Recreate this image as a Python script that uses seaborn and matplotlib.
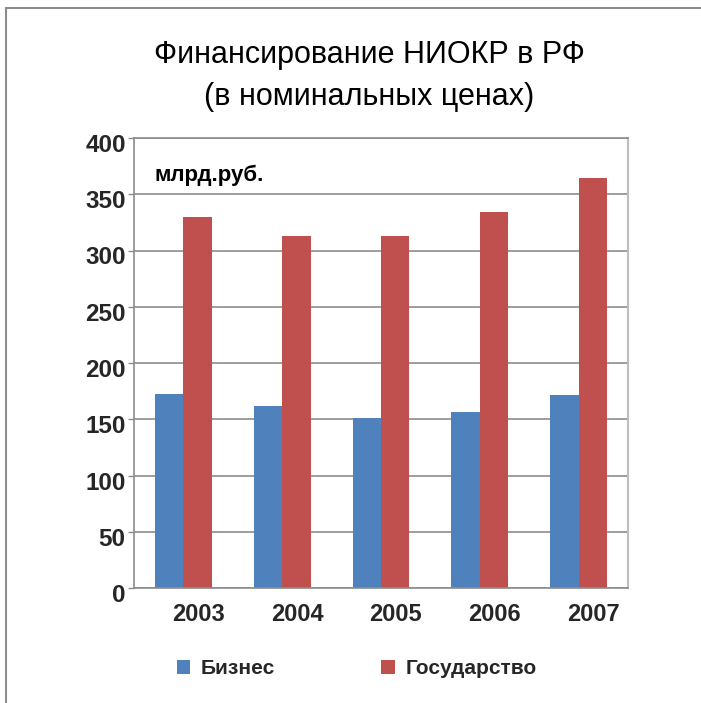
import matplotlib
matplotlib.use("Agg")
import matplotlib.pyplot as plt
import matplotlib.transforms as mtransforms
import numpy as np
import pandas as pd
import seaborn as sns

# ---- data ----
years = ["2003", "2004", "2005", "2006", "2007"]
series_names = ["Бизнес", "Государство"]
business = [172.5, 162, 151, 156.5, 171.5]
government = [330, 313, 313, 334, 364.5]
y_ticks = [0, 50, 100, 150, 200, 250, 300, 350, 400]
title_text = "Финансирование НИОКР в РФ\n(в номинальных ценах)"
unit_text = "млрд.руб."

colors = ["#4F81BD", "#C0504D"]

df = pd.DataFrame({
    "Год": years * 2,
    "Источник": [series_names[0]] * len(years) + [series_names[1]] * len(years),
    "Значение": business + government,
})

sns.set_theme(style="white")
plt.rcParams["font.family"] = ["Liberation Sans", "DejaVu Sans"]

W, H = 701, 703
fig = plt.figure(figsize=(W / 100, H / 100), dpi=100)
ax = fig.add_axes([134 / W, 1 - 588 / H, 494 / W, 450 / H])

sns.barplot(data=df, x="Год", y="Значение", hue="Источник", palette=colors,
            width=0.576, saturation=1, errorbar=None, linewidth=0, ax=ax)

ax.set_ylim(0, 400)
ax.set_xlim(-0.5, 4.5)
ax.set_yticks(y_ticks)
ax.set_yticklabels([str(v) for v in y_ticks], fontsize=17.5, fontweight="bold")
ax.set_xticks(np.arange(len(years)) + 0.15)
ax.set_xticklabels(years, fontsize=17, fontweight="bold")
ax.set_xlabel("")
ax.set_ylabel("")

ax.yaxis.grid(True, color="#8c8c8c", linewidth=1.2)
ax.set_axisbelow(True)
for side in ["left", "bottom", "top"]:
    ax.spines[side].set_color("#8c8c8c")
    ax.spines[side].set_linewidth(1.2)
ax.spines["right"].set_color("#bdbdbd")
ax.spines["right"].set_linewidth(1.5)

ax.tick_params(axis="y", which="both", left=True, length=4, width=1, color="#8c8c8c", pad=2)
ax.tick_params(axis="x", length=0, pad=11)

offset = mtransforms.ScaledTranslation(0, -5 / 100, fig.dpi_scale_trans)
for lab in ax.get_yticklabels():
    lab.set_transform(lab.get_transform() + offset)

ax.text((155 - 134) / 494, (588 - 175) / 450, unit_text, transform=ax.transAxes,
        fontsize=16, fontweight="bold", va="center", ha="left", color="black")

fig.suptitle(title_text, x=369 / W, y=1 - 76 / H, va="center", ha="center",
             fontsize=22, linespacing=1.53, color="black")

handles, labels = ax.get_legend_handles_labels()
ax.legend(handles, labels, loc="center left", bbox_to_anchor=(158 / W, 1 - 669 / H),
          bbox_transform=fig.transFigure, ncol=2, frameon=False,
          prop={"weight": "bold", "size": 15},
          handlelength=0.65, handleheight=0.65, handletextpad=0.5, columnspacing=5.1)

# outer frame lines (top and left)
fig.add_artist(plt.Line2D([6 / W, 1], [1 - 8 / H, 1 - 8 / H], transform=fig.transFigure,
                          color="#8c8c8c", linewidth=1.5))
fig.add_artist(plt.Line2D([6 / W, 6 / W], [0, 1 - 8 / H], transform=fig.transFigure,
                          color="#8c8c8c", linewidth=1.5))

fig.savefig("out.png", dpi=100, facecolor="white")
